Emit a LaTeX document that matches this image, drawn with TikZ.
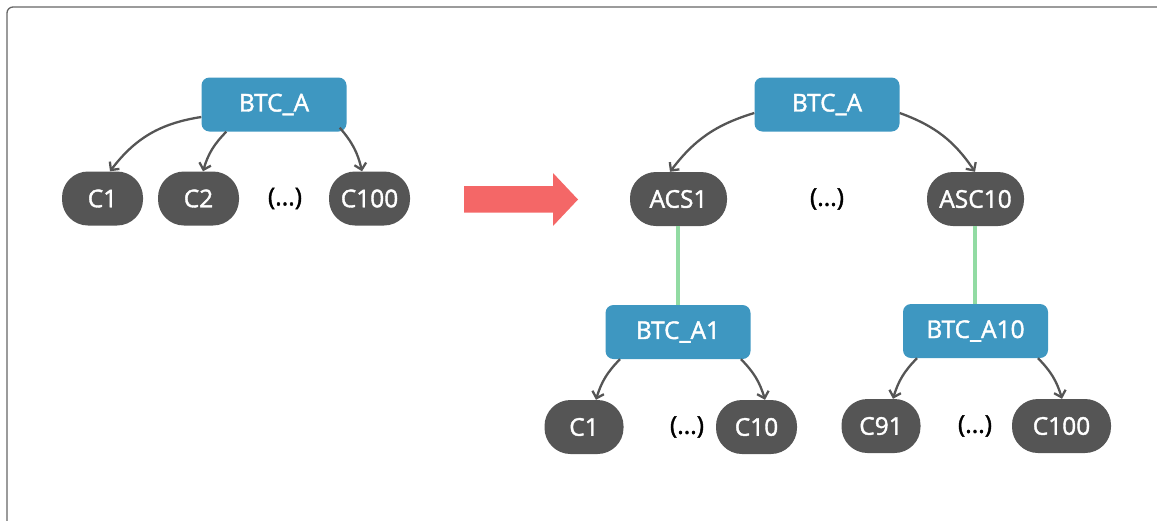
\documentclass[tikz,border=0pt]{standalone}
\usepackage{fontspec}
\setmainfont{Open Sans}
\newfontfamily\lblfont[FakeBold=1.6]{Open Sans}
\usetikzlibrary{arrows.meta,calc}
\definecolor{bluebox}{HTML}{3E97C1}
\definecolor{graybox}{HTML}{555555}
\definecolor{redarrow}{HTML}{F46767}
\definecolor{greenline}{HTML}{92DBA3}
\definecolor{edgegray}{HTML}{555555}
\begin{document}
\begin{tikzpicture}[x=1pt,y=-1pt,
  btc/.style={fill=bluebox,text=white,rounded corners=8pt,minimum width=145pt,minimum height=54pt,inner sep=0pt,font=\lblfont\fontsize{24.5}{26}\selectfont},
  cn/.style={fill=graybox,text=white,rounded corners=26pt,minimum width=81pt,minimum height=54pt,inner sep=0pt,font=\lblfont\fontsize{24.5}{26}\selectfont},
  dots/.style={inner sep=0pt,font=\lblfont\fontsize{24.5}{26}\selectfont},
  edge/.style={draw=edgegray,line width=2.3pt,-{Straight Barb[length=6pt,width=12pt,line width=2.3pt]}},
  link/.style={draw=greenline,line width=4pt}]
\useasboundingbox (0,0) rectangle (1157,520);
\draw[graybox!90!white,line width=1.3pt,rounded corners=6pt] (7,7) rectangle (1180,540);

% left tree
\node[btc] (a) at (274,104.5) {BTC\_A};
\node[cn] (c1) at (102.5,198.5) {C1};
\node[cn] (c2) at (198.5,198.5) {C2};
\node[dots] (d0) at (285,198.5) {(...)};
\node[cn] (c100) at (369.5,198.5) {C100};
\draw[edge] (a.west|-0,117) to[bend right=22] (c1.north-|110,0);
\draw[edge] ($(a.south west)+(25,0)$) to[bend right=14] (c2.north-|203,0);
\draw[edge] ($(a.south east)+(-7,-4)$) to[bend left=14] (c100.north-|362,0);

% red arrow
\fill[redarrow] (464,186) -- (553,186) -- (553,173) -- (578,199.5) -- (553,226) -- (553,212.5) -- (464,212.5) -- cycle;

% right tree
\node[btc] (b) at (827,104.5) {BTC\_A};
\node[cn,minimum width=97pt] (s1) at (678.5,199) {ACS1};
\node[dots] (d1) at (827,199) {(...)};
\node[cn,minimum width=97pt] (s10) at (975.5,199) {ASC10};
\node[btc] (b1) at (678,332) {BTC\_A1};
\node[btc] (b10) at (975.5,331) {BTC\_A10};
\node[cn,minimum width=79pt] (e1) at (584,427) {C1};
\node[dots] (d2) at (687,427) {(...)};
\node[cn] (e10) at (756.5,427) {C10};
\node[cn,minimum width=79pt] (e91) at (881,426) {C91};
\node[dots] (d3) at (975,426) {(...)};
\node[cn,minimum width=99pt] (e100) at (1061.5,426) {C100};

\draw[edge] (b.west|-0,113) to[bend right=18] (s1.north-|670,0);
\draw[edge] (b.east|-0,113) to[bend left=18] (s10.north-|975,0);
\draw[link] (s1.south-|678,0) -- (b1.north-|678,0);
\draw[link] (s10.south-|975,0) -- (b10.north-|975,0);
\draw[edge] (b1.south-|620,0) to[bend right=14] (e1.north-|596,0);
\draw[edge] (b1.south-|741,0) to[bend left=14] (e10.north-|765,0);
\draw[edge] (b10.south-|917,0) to[bend right=14] (e91.north-|893,0);
\draw[edge] (b10.south-|1038,0) to[bend left=14] (e100.north-|1062,0);
\end{tikzpicture}
\end{document}
